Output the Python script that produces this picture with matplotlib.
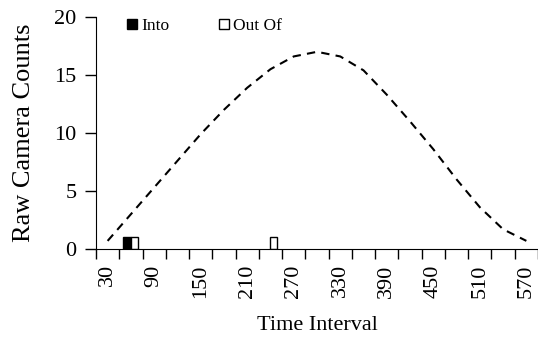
import numpy as np
import matplotlib.pyplot as plt

plt.rcParams['font.family'] = ['Liberation Serif', 'DejaVu Serif']

# time interval categories (s)
intervals = [30, 60, 90, 120, 150, 180, 210, 240, 270, 300,
             330, 360, 390, 420, 450, 480, 510, 540, 570]
into = [0, 1, 0, 0, 0, 0, 0, 0, 0, 0, 0, 0, 0, 0, 0, 0, 0, 0, 0]
out_of = [0, 1, 0, 0, 0, 0, 0, 1, 0, 0, 0, 0, 0, 0, 0, 0, 0, 0, 0]
curve = [0.7, 3.0, 5.3, 7.6, 9.9, 12.0, 13.9, 15.5, 16.6, 17.0,
         16.6, 15.4, 13.3, 11.0, 8.6, 6.0, 3.6, 1.7, 0.7]

x = np.arange(len(intervals))
into = np.array(into)
out_of = np.array(out_of)

fig = plt.figure(figsize=(5.38, 3.37), dpi=100)
ax = fig.add_axes([96/538, 1-249/337, 1-96/538, (249-17)/337])

# skip empty bins so zero bars don't leave marks on the axis
m1 = into > 0
m2 = out_of > 0
b1 = ax.bar(x[m1], into[m1], width=-0.32, align='edge', color='black',
            edgecolor='black', linewidth=1, label='Into')
b2 = ax.bar(x[m2], out_of[m2], width=0.3, align='edge', color='white',
            edgecolor='black', linewidth=1, label='Out Of')
ax.plot(x, curve, color='black', lw=1.5, ls=(0, (4, 3)))

ax.set_xlim(-0.5, len(intervals)-0.5)
ax.set_ylim(0, 20)
ax.set_yticks([0, 5, 10, 15, 20])

# ticks between categories, labels on every other category
ax.set_xticks(np.arange(len(intervals)+1) - 0.5)
ax.set_xticklabels([])
ax.set_xticks(x[::2], minor=True)
ax.set_xticklabels([str(v) for v in intervals[::2]], minor=True, rotation=90)
ax.tick_params(axis='x', which='minor', length=0, pad=11, labelsize=16)
ax.tick_params(axis='x', which='major', direction='out', length=7, width=1)
ax.tick_params(axis='y', direction='out', length=8, width=1, pad=6, labelsize=16)

ax.spines['top'].set_visible(False)
ax.spines['right'].set_visible(False)

ax.set_ylabel('Raw Camera Counts', fontsize=19, labelpad=14)
ax.set_xlabel('Time Interval', fontsize=16, labelpad=13)

ax.legend(handles=[b1, b2], loc='center left', bbox_to_anchor=(127/538, 1-26/337),
          bbox_transform=fig.transFigure, ncol=2, frameon=False, fontsize=12.5,
          handlelength=0.55, handleheight=0.55, handletextpad=0.25,
          columnspacing=2.9, borderpad=0, borderaxespad=0)

fig.savefig('out.png', dpi=100)
